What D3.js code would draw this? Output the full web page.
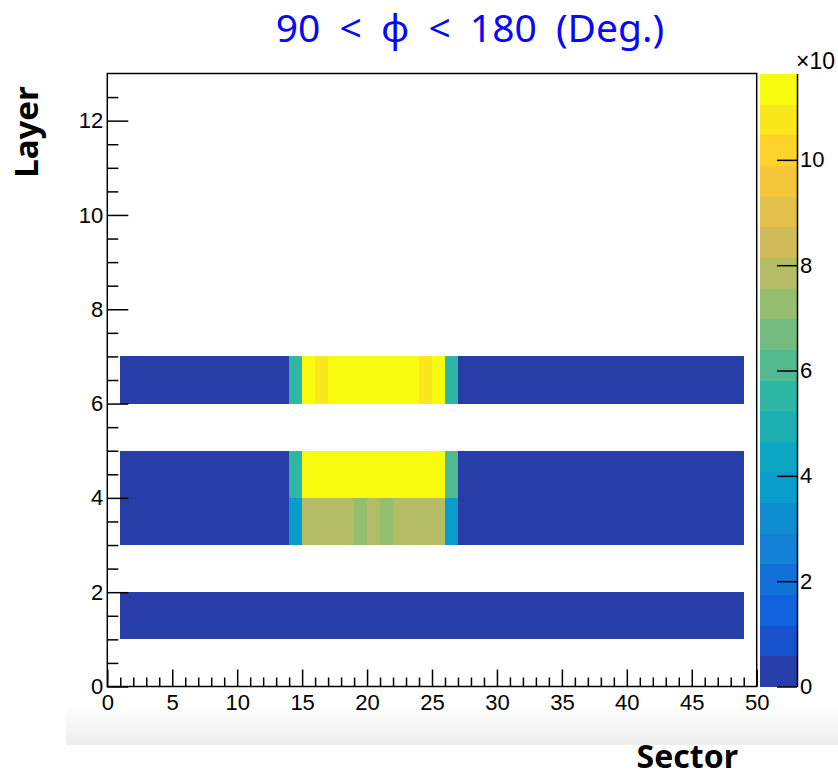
<!DOCTYPE html>
<html>
<head>
<meta charset="utf-8">
<script src="https://cdn.jsdelivr.net/npm/d3@7"></script>
<style>
  html, body { margin: 0; padding: 0; background: #ffffff; }
  svg { display: block; }
</style>
</head>
<body>
<svg id="chart" width="838" height="777"></svg>
<script>
// Hit counts per (layer, sector); sectors 1..48 are bins [s, s+1)
const sectors = [1,2,3,4,5,6,7,8,9,10,11,12,13,14,15,16,17,18,19,20,21,22,23,24,
                 25,26,27,28,29,30,31,32,33,34,35,36,37,38,39,40,41,42,43,44,45,46,47,48];
const layers = [1, 3, 4, 6];

const layer1 = [1,1,1,1,1,1,1,1,1,1,1,1,1,1,1,1,1,1,1,1,1,1,1,1,
                1,1,1,1,1,1,1,1,1,1,1,1,1,1,1,1,1,1,1,1,1,1,1,1];
const layer3 = [1,1,1,1,1,1,1,1,1,1,1,1,1,38,79,79,79,79,73,79,73,79,79,79,
                79,38,1,1,1,1,1,1,1,1,1,1,1,1,1,1,1,1,1,1,1,1,1,1];
const layer4 = [1,1,1,1,1,1,1,1,1,1,1,1,1,55,114,114,114,114,114,114,114,114,114,114,
                114,61,1,1,1,1,1,1,1,1,1,1,1,1,1,1,1,1,1,1,1,1,1,1];
const layer6 = [1,1,1,1,1,1,1,1,1,1,1,1,1,55,114,108,114,114,114,114,114,114,114,108,
                114,55,1,1,1,1,1,1,1,1,1,1,1,1,1,1,1,1,1,1,1,1,1,1];
const layerValues = [layer1, layer3, layer4, layer6];

const zMin = 0, zMax = 116.4;
const nContours = 20;

const xTicks = [0, 5, 10, 15, 20, 25, 30, 35, 40, 45, 50];
const yTicks = [0, 2, 4, 6, 8, 10, 12];
const zTicks = [0, 20, 40, 60, 80, 100];
const zTickLabels = ["0", "2", "4", "6", "8", "10"];

const titleText = "90 < \u03D5 < 180 (Deg.)";
const xTitle = "Sector";
const yTitle = "Layer";

// Bird palette stops
const birdStops = [0.0, 0.125, 0.25, 0.375, 0.5, 0.625, 0.75, 0.875, 1.0];
const birdR = [0.2082, 0.0592, 0.0780, 0.0232, 0.1802, 0.5301, 0.8186, 0.9956, 0.9764];
const birdG = [0.1664, 0.3599, 0.5041, 0.6419, 0.7178, 0.7492, 0.7328, 0.7862, 0.9832];
const birdB = [0.5293, 0.8684, 0.8385, 0.7914, 0.6425, 0.4662, 0.3499, 0.1968, 0.0539];

// Build the table of cells from the arrays above
const cells = [];
layers.forEach((ly, li) => {
  sectors.forEach((s, si) => {
    cells.push({ sector: s, layer: ly, value: layerValues[li][si] });
  });
});

const svg = d3.select("#chart");
const W = 838, H = 777;
const frame = { left: 107.3, right: 756.7, top: 73.5, bottom: 686.5 };
const bar = { left: 759.5, right: 797 };

const x = d3.scaleLinear().domain([0, 50]).range([frame.left, frame.right]);
const y = d3.scaleLinear().domain([0, 13]).range([frame.bottom, frame.top]);
const z = d3.scaleLinear().domain([zMin, zMax]).range([frame.bottom, frame.top]);

// Palette: 255 interpolated colours, one per contour level
const rS = d3.scaleLinear().domain(birdStops).range(birdR);
const gS = d3.scaleLinear().domain(birdStops).range(birdG);
const bS = d3.scaleLinear().domain(birdStops).range(birdB);
const nCol = 255;
const contourColors = d3.range(nContours).map(i => {
  const c = Math.floor((i + 0.99) * nCol / nContours);
  const t = c / (nCol - 1);
  return d3.rgb(rS(t) * 255, gS(t) * 255, bS(t) * 255).formatHex();
});
const levelStep = (zMax - zMin) / nContours;
function colorOf(v) {
  let i = Math.floor((v - zMin) / levelStep);
  i = Math.max(0, Math.min(nContours - 1, i));
  return contourColors[i];
}

// Light shaded strip behind the x labels
const defs = svg.append("defs");
const grad = defs.append("linearGradient").attr("id", "strip")
  .attr("x1", 0).attr("y1", 0).attr("x2", 0).attr("y2", 1);
grad.append("stop").attr("offset", "0%").attr("stop-color", "#ffffff");
grad.append("stop").attr("offset", "100%").attr("stop-color", "#eeeeee");
svg.append("rect").attr("x", 66).attr("y", 704).attr("width", W - 66).attr("height", 41)
  .attr("fill", "url(#strip)");

// Cells (crisp edges so neighbouring bins join without seams)
svg.append("g").attr("shape-rendering", "crispEdges")
  .selectAll("rect").data(cells).join("rect")
  .attr("x", d => x(d.sector))
  .attr("y", d => y(d.layer + 1))
  .attr("width", d => x(d.sector + 1) - x(d.sector) + 0.5)
  .attr("height", d => y(d.layer) - y(d.layer + 1))
  .attr("fill", d => colorOf(d.value));

// Frame
svg.append("rect")
  .attr("x", frame.left).attr("y", frame.top)
  .attr("width", frame.right - frame.left).attr("height", frame.bottom - frame.top)
  .attr("fill", "none").attr("stroke", "#000").attr("stroke-width", 1.5);

const tickFont = "'Liberation Sans', Arial, Helvetica, sans-serif";

// X axis: major and minor ticks pointing into the frame
const xMinorVals = d3.range(0, 51).filter(v => v % 5 !== 0);
svg.append("g").attr("transform", `translate(0,${frame.bottom})`)
  .call(d3.axisBottom(x).tickValues(xMinorVals).tickSize(-9).tickFormat(""))
  .call(g => g.select(".domain").remove());
svg.append("g").attr("transform", `translate(0,${frame.bottom})`)
  .call(d3.axisBottom(x).tickValues(xTicks).tickSize(-17).tickPadding(8).tickFormat(d3.format("d")))
  .call(g => g.select(".domain").remove())
  .call(g => g.selectAll("text").attr("font-family", tickFont).attr("font-size", 22).attr("fill", "#000"));

// Y axis
const yMinorVals = d3.range(0, 26).map(v => v / 2).filter(v => v % 2 !== 0);
svg.append("g").attr("transform", `translate(${frame.left},0)`)
  .call(d3.axisLeft(y).tickValues(yMinorVals).tickSize(-11).tickFormat(""))
  .call(g => g.select(".domain").remove());
svg.append("g").attr("transform", `translate(${frame.left},0)`)
  .call(d3.axisLeft(y).tickValues(yTicks).tickSize(-21).tickPadding(4).tickFormat(d3.format("d")))
  .call(g => g.select(".domain").remove())
  .call(g => g.selectAll("text").attr("font-family", tickFont).attr("font-size", 22).attr("fill", "#000"));

svg.selectAll(".tick line").attr("stroke", "#000").attr("stroke-width", 1.5);

// Colour bar
svg.append("g").attr("shape-rendering", "crispEdges")
  .selectAll("rect").data(d3.range(nContours)).join("rect")
  .attr("x", bar.left)
  .attr("y", i => z(zMin + (i + 1) * levelStep))
  .attr("width", bar.right - bar.left)
  .attr("height", i => z(zMin + i * levelStep) - z(zMin + (i + 1) * levelStep) + 0.5)
  .attr("fill", i => contourColors[i]);

const zAxis = svg.append("g").attr("transform", `translate(${bar.right},0)`)
  .call(d3.axisRight(z).tickValues(zTicks).tickSize(-20).tickSizeOuter(0).tickPadding(3)
    .tickFormat((d, i) => zTickLabels[i]));
zAxis.select(".domain").attr("stroke", "#000").attr("stroke-width", 1.5);
zAxis.selectAll(".tick line").attr("stroke", "#000").attr("stroke-width", 1.5);
zAxis.selectAll("text").attr("font-family", tickFont).attr("font-size", 22).attr("fill", "#000");

svg.append("text")
  .attr("x", 796).attr("y", 69)
  .attr("font-family", tickFont).attr("font-size", 23).attr("fill", "#000")
  .text("\u00D710");

// Titles
const titleFont = "'Noto Sans', 'Open Sans', sans-serif";
svg.append("text")
  .attr("x", 470).attr("y", 42)
  .attr("text-anchor", "middle")
  .attr("font-family", titleFont).attr("font-size", 39).attr("fill", "#0808f8")
  .attr("word-spacing", 9)
  .text(titleText);

svg.append("text")
  .attr("x", 738).attr("y", 768)
  .attr("text-anchor", "end")
  .attr("font-family", titleFont).attr("font-weight", "bold").attr("font-size", 32).attr("fill", "#000")
  .text(xTitle);

svg.append("text")
  .attr("transform", "translate(38,132) rotate(-90)")
  .attr("text-anchor", "middle")
  .attr("font-family", titleFont).attr("font-weight", "bold").attr("font-size", 33).attr("fill", "#000")
  .text(yTitle);
</script>
</body>
</html>
